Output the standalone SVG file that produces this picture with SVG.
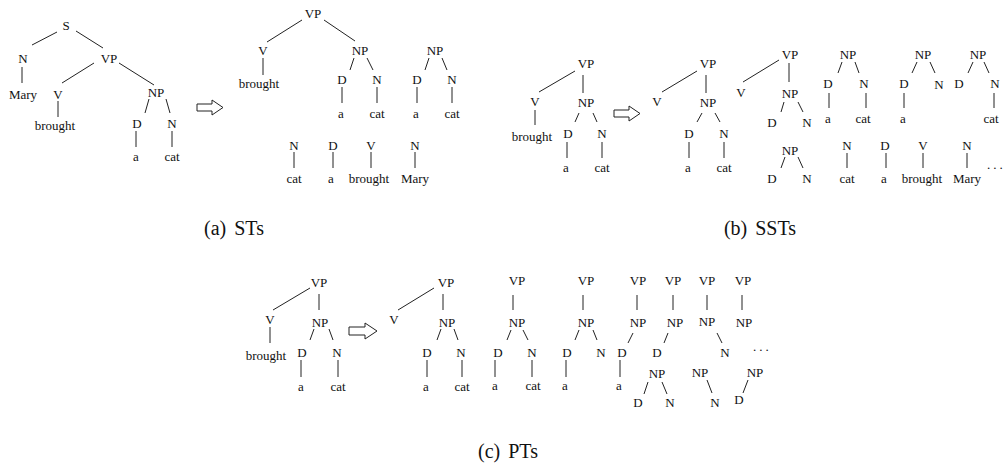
<svg xmlns="http://www.w3.org/2000/svg" width="1007" height="469" viewBox="0 0 1007 469">
<style>
text{font-family:"Liberation Serif","Times New Roman",serif;font-size:13px;text-anchor:middle;fill:#111}
.cap{font-size:20px;word-spacing:3px}
.dots{letter-spacing:3px;text-anchor:start}
#connectors line{stroke:#222;stroke-width:1}
.arr{fill:#fff;stroke:#222;stroke-width:1}
</style>
<rect width="1007" height="469" fill="#fff"/>
<g id="connectors">
<!-- a1 -->
<line x1="32" y1="45" x2="57" y2="32"/><line x1="76" y1="31" x2="103" y2="48"/><line x1="22" y1="67" x2="22" y2="83"/>
<line x1="62" y1="83" x2="94" y2="63"/><line x1="119" y1="63" x2="154" y2="85"/><line x1="58" y1="101" x2="58" y2="117"/>
<line x1="145" y1="113" x2="149" y2="99"/><line x1="166" y1="99" x2="170" y2="113"/><line x1="136" y1="131" x2="136" y2="147"/><line x1="172" y1="131" x2="172" y2="147"/>
<!-- a2 -->
<line x1="267" y1="42" x2="302" y2="20"/><line x1="324" y1="20" x2="355" y2="41"/><line x1="263" y1="58" x2="263" y2="75"/>
<line x1="350" y1="70" x2="354" y2="58"/><line x1="367" y1="58" x2="373" y2="70"/><line x1="342" y1="87" x2="342" y2="103"/><line x1="377" y1="87" x2="377" y2="103"/>
<!-- a3 -->
<line x1="425" y1="70" x2="429" y2="58"/><line x1="442" y1="58" x2="447" y2="70"/><line x1="417" y1="87" x2="417" y2="103"/><line x1="452" y1="87" x2="452" y2="103"/>
<!-- a4-7 -->
<line x1="294" y1="152" x2="294" y2="168"/><line x1="333" y1="152" x2="333" y2="168"/><line x1="371" y1="152" x2="371" y2="168"/><line x1="415" y1="152" x2="415" y2="168"/>
<!-- b1 -->
<line x1="539" y1="92" x2="575" y2="71"/><line x1="583" y1="75" x2="583" y2="93"/><line x1="575" y1="122" x2="579" y2="113"/><line x1="593" y1="113" x2="597" y2="122"/>
<line x1="567" y1="142" x2="567" y2="158"/><line x1="602" y1="142" x2="602" y2="158"/><line x1="535" y1="110" x2="535" y2="125"/>
<!-- b2 -->
<line x1="662" y1="92" x2="697" y2="71"/><line x1="706" y1="75" x2="706" y2="93"/><line x1="697" y1="122" x2="702" y2="113"/><line x1="715" y1="113" x2="720" y2="122"/>
<line x1="689" y1="142" x2="689" y2="158"/><line x1="724" y1="142" x2="724" y2="158"/>
<!-- b3 -->
<line x1="743" y1="82" x2="779" y2="60"/><line x1="789" y1="63" x2="789" y2="82"/><line x1="781" y1="112" x2="784" y2="102"/><line x1="798" y1="102" x2="803" y2="112"/>
<!-- b4 -->
<line x1="838" y1="73" x2="842" y2="62"/><line x1="855" y1="62" x2="859" y2="73"/><line x1="829" y1="93" x2="829" y2="108"/><line x1="866" y1="93" x2="866" y2="108"/>
<!-- b5 -->
<line x1="912" y1="73" x2="917" y2="62"/><line x1="930" y1="62" x2="935" y2="73"/><line x1="904" y1="93" x2="904" y2="108"/>
<!-- b6 -->
<line x1="968" y1="73" x2="973" y2="62"/><line x1="984" y1="62" x2="989" y2="73"/><line x1="994" y1="93" x2="994" y2="108"/>
<!-- b7 -->
<line x1="781" y1="168" x2="785" y2="157"/><line x1="798" y1="157" x2="803" y2="168"/>
<!-- b8-11 -->
<line x1="847" y1="153" x2="847" y2="168"/><line x1="886" y1="153" x2="886" y2="168"/><line x1="923" y1="153" x2="923" y2="168"/><line x1="967" y1="153" x2="967" y2="168"/>
<!-- c1 -->
<line x1="273" y1="310" x2="310" y2="288"/><line x1="319" y1="294" x2="319" y2="310"/><line x1="270" y1="327" x2="270" y2="343"/>
<line x1="310" y1="340" x2="314" y2="329"/><line x1="329" y1="329" x2="333" y2="340"/><line x1="301" y1="360" x2="301" y2="377"/><line x1="338" y1="360" x2="338" y2="377"/>
<!-- c2 -->
<line x1="398" y1="310" x2="434" y2="288"/><line x1="443" y1="294" x2="443" y2="310"/><line x1="437" y1="340" x2="441" y2="329"/><line x1="454" y1="329" x2="458" y2="340"/>
<line x1="427" y1="360" x2="427" y2="377"/><line x1="462" y1="360" x2="462" y2="377"/>
<!-- c3 -->
<line x1="513" y1="295" x2="513" y2="310"/><line x1="507" y1="340" x2="511" y2="330"/><line x1="523" y1="330" x2="528" y2="340"/><line x1="495" y1="360" x2="495" y2="377"/><line x1="532" y1="360" x2="532" y2="377"/>
<!-- c4 -->
<line x1="583" y1="295" x2="583" y2="310"/><line x1="575" y1="340" x2="579" y2="330"/><line x1="593" y1="330" x2="597" y2="340"/><line x1="566" y1="360" x2="566" y2="377"/>
<!-- c5 -->
<line x1="637" y1="295" x2="637" y2="310"/><line x1="628" y1="343" x2="633" y2="333"/><line x1="620" y1="360" x2="620" y2="377"/>
<!-- c6 -->
<line x1="673" y1="295" x2="673" y2="310"/><line x1="664" y1="343" x2="668" y2="333"/>
<!-- c7 -->
<line x1="707" y1="295" x2="707" y2="310"/><line x1="717" y1="333" x2="722" y2="343"/>
<!-- c8 -->
<line x1="742" y1="295" x2="742" y2="310"/>
<!-- c9-11 -->
<line x1="644" y1="394" x2="648" y2="382"/><line x1="662" y1="382" x2="667" y2="394"/>
<line x1="707" y1="380" x2="712" y2="393"/>
<line x1="743" y1="393" x2="748" y2="380"/>
</g>
<g id="arrow-a"><polygon class="arr" points="197,104 212,104 212,100 223,107.5 212,115 212,111 197,111"/></g>
<g id="arrow-b"><polygon class="arr" points="614,110 629,110 629,106 640,113.5 629,121 629,117 614,117"/></g>
<g id="arrow-c"><polygon class="arr" points="349,327 365,327 365,323 377,331 365,339 365,335 349,335"/></g>
<!-- (a) full tree -->
<g id="a1-S"><text x="66" y="30">S</text></g>
<g id="a1-N"><text x="23" y="63">N</text></g>
<g id="a1-VP"><text x="109" y="63">VP</text></g>
<g id="a1-Mary"><text x="23" y="99">Mary</text></g>
<g id="a1-V"><text x="58" y="99">V</text></g>
<g id="a1-NP"><text x="156" y="97">NP</text></g>
<g id="a1-brought"><text x="55" y="130">brought</text></g>
<g id="a1-D"><text x="137" y="128">D</text></g>
<g id="a1-N2"><text x="172" y="128">N</text></g>
<g id="a1-a"><text x="136" y="161">a</text></g>
<g id="a1-cat"><text x="172" y="161">cat</text></g>
<!-- (a) subtrees -->
<g id="a2-VP"><text x="313" y="18">VP</text></g>
<g id="a2-V"><text x="263" y="55">V</text></g>
<g id="a2-NP"><text x="360" y="55">NP</text></g>
<g id="a2-brought"><text x="259" y="88">brought</text></g>
<g id="a2-D"><text x="342" y="84">D</text></g>
<g id="a2-N"><text x="377" y="84">N</text></g>
<g id="a2-a"><text x="341" y="118">a</text></g>
<g id="a2-cat"><text x="377" y="118">cat</text></g>
<g id="a3-NP"><text x="435" y="55">NP</text></g>
<g id="a3-D"><text x="417" y="84">D</text></g>
<g id="a3-N"><text x="452" y="84">N</text></g>
<g id="a3-a"><text x="416" y="118">a</text></g>
<g id="a3-cat"><text x="452" y="118">cat</text></g>
<g id="a4-N"><text x="294" y="150">N</text></g>
<g id="a4-cat"><text x="294" y="183">cat</text></g>
<g id="a5-D"><text x="333" y="150">D</text></g>
<g id="a5-a"><text x="331" y="183">a</text></g>
<g id="a6-V"><text x="371" y="150">V</text></g>
<g id="a6-brought"><text x="369" y="183">brought</text></g>
<g id="a7-N"><text x="415" y="150">N</text></g>
<g id="a7-Mary"><text x="415" y="183">Mary</text></g>
<!-- (b) -->
<g id="b1-VP"><text x="586" y="68">VP</text></g>
<g id="b1-V"><text x="535" y="106">V</text></g>
<g id="b1-NP"><text x="586" y="107">NP</text></g>
<g id="b1-brought"><text x="532" y="141">brought</text></g>
<g id="b1-D"><text x="568" y="138">D</text></g>
<g id="b1-N"><text x="602" y="138">N</text></g>
<g id="b1-a"><text x="566" y="172">a</text></g>
<g id="b1-cat"><text x="602" y="172">cat</text></g>
<g id="b2-VP"><text x="708" y="68">VP</text></g>
<g id="b2-V"><text x="657" y="106">V</text></g>
<g id="b2-NP"><text x="708" y="107">NP</text></g>
<g id="b2-D"><text x="689" y="138">D</text></g>
<g id="b2-N"><text x="724" y="138">N</text></g>
<g id="b2-a"><text x="688" y="172">a</text></g>
<g id="b2-cat"><text x="724" y="172">cat</text></g>
<g id="b3-VP"><text x="790" y="59">VP</text></g>
<g id="b3-V"><text x="741" y="97">V</text></g>
<g id="b3-NP"><text x="790" y="98">NP</text></g>
<g id="b3-D"><text x="772" y="127">D</text></g>
<g id="b3-N"><text x="807" y="127">N</text></g>
<g id="b4-NP"><text x="848" y="59">NP</text></g>
<g id="b4-D"><text x="828" y="88">D</text></g>
<g id="b4-N"><text x="864" y="88">N</text></g>
<g id="b4-a"><text x="828" y="123">a</text></g>
<g id="b4-cat"><text x="863" y="123">cat</text></g>
<g id="b5-NP"><text x="923" y="59">NP</text></g>
<g id="b5-D"><text x="904" y="88">D</text></g>
<g id="b5-N"><text x="939" y="89">N</text></g>
<g id="b5-a"><text x="903" y="123">a</text></g>
<g id="b6-NP"><text x="978" y="59">NP</text></g>
<g id="b6-D"><text x="959" y="88">D</text></g>
<g id="b6-N"><text x="995" y="88">N</text></g>
<g id="b6-cat"><text x="991" y="123">cat</text></g>
<g id="b7-NP"><text x="790" y="155">NP</text></g>
<g id="b7-D"><text x="772" y="183">D</text></g>
<g id="b7-N"><text x="807" y="183">N</text></g>
<g id="b8-N"><text x="847" y="150">N</text></g>
<g id="b8-cat"><text x="847" y="183">cat</text></g>
<g id="b9-D"><text x="885" y="150">D</text></g>
<g id="b9-a"><text x="884" y="183">a</text></g>
<g id="b10-V"><text x="923" y="150">V</text></g>
<g id="b10-brought"><text x="922" y="183">brought</text></g>
<g id="b11-N"><text x="967" y="150">N</text></g>
<g id="b11-Mary"><text x="967" y="183">Mary</text></g>
<g id="b-dots"><text class="dots" x="987" y="169">...</text></g>
<!-- (c) -->
<g id="c1-VP"><text x="319" y="287">VP</text></g>
<g id="c1-V"><text x="270" y="324">V</text></g>
<g id="c1-NP"><text x="320" y="327">NP</text></g>
<g id="c1-brought"><text x="266" y="360">brought</text></g>
<g id="c1-D"><text x="302" y="357">D</text></g>
<g id="c1-N"><text x="337" y="357">N</text></g>
<g id="c1-a"><text x="301" y="391">a</text></g>
<g id="c1-cat"><text x="338" y="391">cat</text></g>
<g id="c2-VP"><text x="446" y="287">VP</text></g>
<g id="c2-V"><text x="394" y="324">V</text></g>
<g id="c2-NP"><text x="447" y="327">NP</text></g>
<g id="c2-D"><text x="427" y="357">D</text></g>
<g id="c2-N"><text x="461" y="357">N</text></g>
<g id="c2-a"><text x="426" y="391">a</text></g>
<g id="c2-cat"><text x="462" y="391">cat</text></g>
<g id="c3-VP"><text x="517" y="285">VP</text></g>
<g id="c3-NP"><text x="517" y="327">NP</text></g>
<g id="c3-D"><text x="498" y="357">D</text></g>
<g id="c3-N"><text x="532" y="357">N</text></g>
<g id="c3-a"><text x="495" y="390">a</text></g>
<g id="c3-cat"><text x="533" y="390">cat</text></g>
<g id="c4-VP"><text x="586" y="285">VP</text></g>
<g id="c4-NP"><text x="586" y="327">NP</text></g>
<g id="c4-D"><text x="567" y="357">D</text></g>
<g id="c4-N"><text x="601" y="357">N</text></g>
<g id="c4-a"><text x="565" y="390">a</text></g>
<g id="c5-VP"><text x="638" y="285">VP</text></g>
<g id="c5-NP"><text x="638" y="327">NP</text></g>
<g id="c5-D"><text x="622" y="357">D</text></g>
<g id="c5-a"><text x="619" y="390">a</text></g>
<g id="c6-VP"><text x="673" y="285">VP</text></g>
<g id="c6-NP"><text x="675" y="327">NP</text></g>
<g id="c6-D"><text x="657" y="357">D</text></g>
<g id="c7-VP"><text x="707" y="285">VP</text></g>
<g id="c7-NP"><text x="707" y="326">NP</text></g>
<g id="c7-N"><text x="725" y="357">N</text></g>
<g id="c8-VP"><text x="743" y="285">VP</text></g>
<g id="c8-NP"><text x="744" y="327">NP</text></g>
<g id="c9-NP"><text x="657" y="378">NP</text></g>
<g id="c9-D"><text x="638" y="407">D</text></g>
<g id="c9-N"><text x="670" y="407">N</text></g>
<g id="c10-NP"><text x="700" y="377">NP</text></g>
<g id="c10-N"><text x="715" y="407">N</text></g>
<g id="c11-NP"><text x="755" y="377">NP</text></g>
<g id="c11-D"><text x="739" y="404">D</text></g>
<g id="c-dots"><text class="dots" x="753" y="351">...</text></g>
<!-- captions -->
<g id="cap-a"><text class="cap" x="234" y="235">(a) STs</text></g>
<g id="cap-b"><text class="cap" x="760" y="235">(b) SSTs</text></g>
<g id="cap-c"><text class="cap" x="508" y="458">(c) PTs</text></g>
</svg>
